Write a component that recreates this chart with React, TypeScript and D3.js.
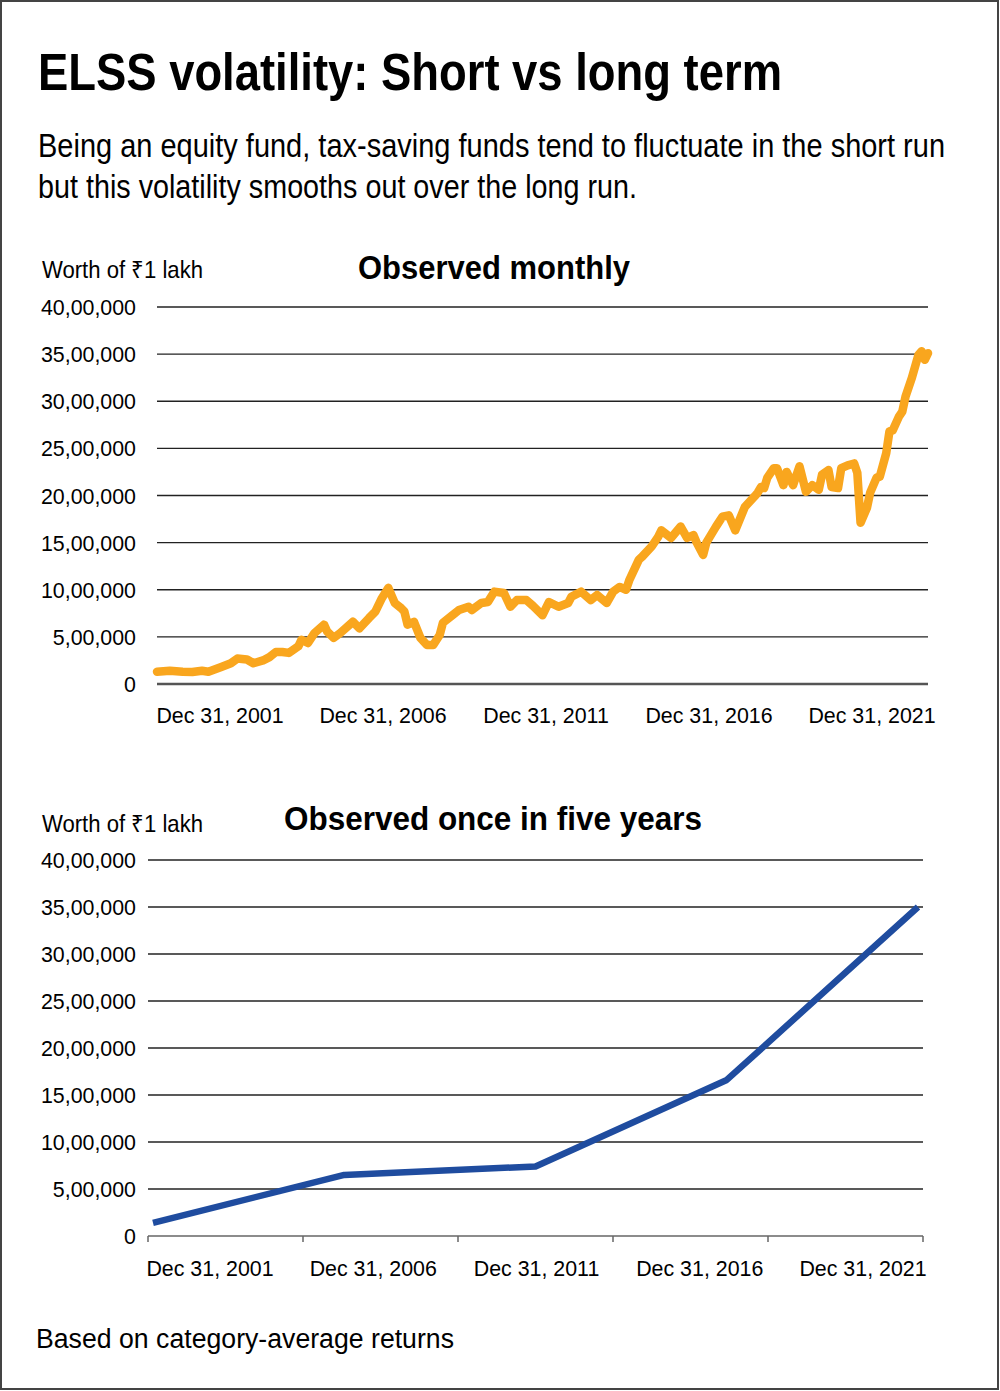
import React from "react";
import * as d3 from "d3";

// ---- Data ----
// Top chart: worth of ₹1 lakh (in lakh), month offset from Dec 31, 2001
const monthOffsets = [
  0, 4, 8, 11, 14, 16, 20, 23, 25, 28, 30, 33, 35, 37, 39, 41, 44, 45, 47, 49,
  52, 53, 55, 57, 61, 63, 66, 68, 70, 72, 74, 76, 77, 78, 80, 82, 84, 86, 88, 89,
  92, 94, 97, 98, 101, 103, 105, 108, 110, 112, 115, 117, 120, 122, 125, 128, 129, 132, 135, 137,
  140, 142, 144, 146, 147, 150, 151, 154, 156, 157, 160, 163, 165, 167, 168, 170, 171, 174, 176, 178,
  180, 183, 186, 187, 188, 189, 190, 192, 193, 195, 196, 198, 200, 202, 204, 206, 207, 209, 210, 212,
  213, 215, 217, 218, 219, 221, 222, 224, 225, 227, 228, 229, 231, 232, 233, 235, 237, 238, 239, 240,
];
const monthlyWorthLakh = [
  1.3, 1.4, 1.3, 1.27, 1.4, 1.3, 1.8, 2.2, 2.7, 2.6, 2.2, 2.5, 2.85, 3.4, 3.4, 3.3, 4.0, 4.7, 4.35, 5.4,
  6.3, 5.55, 4.9, 5.4, 6.6, 5.9, 7.0, 7.7, 9.1, 10.2, 8.6, 8.05, 7.7, 6.3, 6.6, 4.9, 4.15, 4.15, 5.2, 6.5,
  7.3, 7.85, 8.2, 7.85, 8.6, 8.7, 9.8, 9.65, 8.2, 8.9, 8.9, 8.3, 7.3, 8.7, 8.2, 8.6, 9.25, 9.8, 8.9, 9.45,
  8.6, 9.8, 10.3, 10.0, 11.0, 13.2, 13.5, 14.6, 15.6, 16.3, 15.5, 16.7, 15.5, 15.8, 15.0, 13.7, 15.0, 16.7, 17.75, 17.9,
  16.3, 18.8, 19.9, 20.3, 20.9, 20.8, 21.9, 22.9, 22.9, 21.1, 22.5, 21.1, 23.1, 20.4, 21.1, 20.6, 22.2, 22.7, 20.9, 20.8,
  22.9, 23.2, 23.4, 22.4, 17.1, 18.7, 20.3, 21.9, 22.0, 24.5, 26.8, 26.9, 28.4, 28.9, 30.5, 32.5, 34.9, 35.3, 34.4, 35.1,
];

// Bottom chart: observed once in five years (in lakh)
const fiveYearDates = ["Dec 31, 2001", "Dec 31, 2006", "Dec 31, 2011", "Dec 31, 2016", "Dec 31, 2021"];
const fiveYearWorthLakh = [1.4, 6.5, 7.4, 16.6, 35.0];

const xTickLabels = ["Dec 31, 2001", "Dec 31, 2006", "Dec 31, 2011", "Dec 31, 2016", "Dec 31, 2021"];
const yTickValuesLakh = [0, 5, 10, 15, 20, 25, 30, 35, 40];
const yTickLabels = ["0", "5,00,000", "10,00,000", "15,00,000", "20,00,000", "25,00,000", "30,00,000", "35,00,000", "40,00,000"];

const FONT = "'Liberation Sans', Arial, Helvetica, sans-serif";
const ORANGE = "#F9A61E";
const BLUE = "#1F4C9F";
const TICK_SX = 0.93;
const NARROW_SX = 0.875;

type TProps = {
  x: number;
  y: number;
  size: number;
  width?: number;
  bold?: boolean;
  anchor?: "start" | "middle" | "end";
  sx?: number;
  children: React.ReactNode;
};

// Condensed text: horizontal scale, optionally fitted to an exact on-screen width.
function T({ x, y, size, width, bold, anchor = "start", sx, children }: TProps) {
  const s = sx ?? NARROW_SX;
  return (
    <text
      transform={`translate(${x},${y}) scale(${s},1)`}
      fontSize={size}
      fontWeight={bold ? "bold" : "normal"}
      textAnchor={anchor}
      textLength={width !== undefined ? width / s : undefined}
      lengthAdjust={width !== undefined ? "spacingAndGlyphs" : undefined}
      fill="#000"
    >
      {children}
    </text>
  );
}

export default function App() {
  const W = 1000;
  const H = 1391;

  // Top chart scales
  const xTop = d3.scaleLinear().domain([0, 240]).range([157, 928]);
  const yTop = d3.scaleLinear().domain([0, 40]).range([684, 307]);
  const xTopLabels = d3.scalePoint<string>().domain(xTickLabels).range([220, 872]);
  const topLine = d3
    .line<number>()
    .x((_, i) => xTop(monthOffsets[i]))
    .y((d) => yTop(d));

  // Bottom chart scales
  const xBot = d3.scalePoint<string>().domain(fiveYearDates).range([153, 918]);
  const xBotBand = d3.scaleBand<string>().domain(fiveYearDates).range([148, 923]);
  const xBotLabels = d3.scalePoint<string>().domain(xTickLabels).range([210, 863]);
  const yBot = d3.scaleLinear().domain([0, 40]).range([1236, 860]);
  const botLine = d3
    .line<number>()
    .x((_, i) => xBot(fiveYearDates[i]) as number)
    .y((d) => yBot(d));

  const bandEdges = [...fiveYearDates.map((d) => xBotBand(d) as number), xBotBand.range()[1]];

  return (
    <svg
      width={W}
      height={H}
      viewBox={`0 0 ${W} ${H}`}
      style={{ position: "absolute", left: 0, top: 0, background: "#fff" }}
      fontFamily={FONT}
    >
      <rect x={0} y={0} width={W} height={H} fill="#fff" />
      <rect x={1} y={1} width={W - 3} height={H - 3} fill="none" stroke="#444" strokeWidth={2} />

      {/* Title & subtitle */}
      <T x={38} y={90} size={52} bold width={744}>ELSS volatility: Short vs long term</T>
      <T x={38} y={157} size={33} width={907}>
        Being an equity fund, tax-saving funds tend to fluctuate in the short run
      </T>
      <T x={38} y={198} size={33} width={599}>but this volatility smooths out over the long run.</T>

      {/* ---- Top chart ---- */}
      <T x={42} y={278} size={24} width={161}>Worth of ₹1 lakh</T>
      <T x={358} y={279} size={34} bold width={272}>Observed monthly</T>
      {yTickValuesLakh.map((v, i) => (
        <g key={"tg" + i}>
          <line
            x1={157}
            x2={928}
            y1={yTop(v)}
            y2={yTop(v)}
            stroke={v === 0 ? "#555" : "#222"}
            strokeWidth={v === 0 ? 2.4 : 1.3}
          />
          <T x={136} y={yTop(v) + 8} size={23} anchor="end" sx={TICK_SX}>
            {yTickLabels[i]}
          </T>
        </g>
      ))}
      {xTickLabels.map((l) => (
        <T key={"tx" + l} x={xTopLabels(l) as number} y={723} size={23} anchor="middle" sx={TICK_SX}>
          {l}
        </T>
      ))}
      <path
        d={topLine(monthlyWorthLakh) || ""}
        fill="none"
        stroke={ORANGE}
        strokeWidth={8.5}
        strokeLinejoin="round"
        strokeLinecap="round"
      />

      {/* ---- Bottom chart ---- */}
      <T x={42} y={832} size={24} width={161}>Worth of ₹1 lakh</T>
      <T x={284} y={830} size={34} bold width={418}>Observed once in five years</T>
      {yTickValuesLakh.map((v, i) => (
        <g key={"bg" + i}>
          {v !== 0 && (
            <line x1={148} x2={923} y1={yBot(v)} y2={yBot(v)} stroke="#222" strokeWidth={1.3} />
          )}
          <T x={136} y={yBot(v) + 8} size={23} anchor="end" sx={TICK_SX}>
            {yTickLabels[i]}
          </T>
        </g>
      ))}
      <line x1={148} x2={923} y1={yBot(0)} y2={yBot(0)} stroke="#666" strokeWidth={1.5} />
      {bandEdges.map((x, i) => (
        <line key={"bt" + i} x1={x} x2={x} y1={yBot(0)} y2={yBot(0) + 6} stroke="#666" strokeWidth={1.5} />
      ))}
      {xTickLabels.map((l) => (
        <T key={"bx" + l} x={xBotLabels(l) as number} y={1276} size={23} anchor="middle" sx={TICK_SX}>
          {l}
        </T>
      ))}
      <path
        d={botLine(fiveYearWorthLakh) || ""}
        fill="none"
        stroke={BLUE}
        strokeWidth={6.5}
        strokeLinejoin="round"
        strokeLinecap="butt"
      />

      {/* Footer */}
      <T x={36} y={1348} size={28} width={418}>Based on category-average returns</T>
    </svg>
  );
}
